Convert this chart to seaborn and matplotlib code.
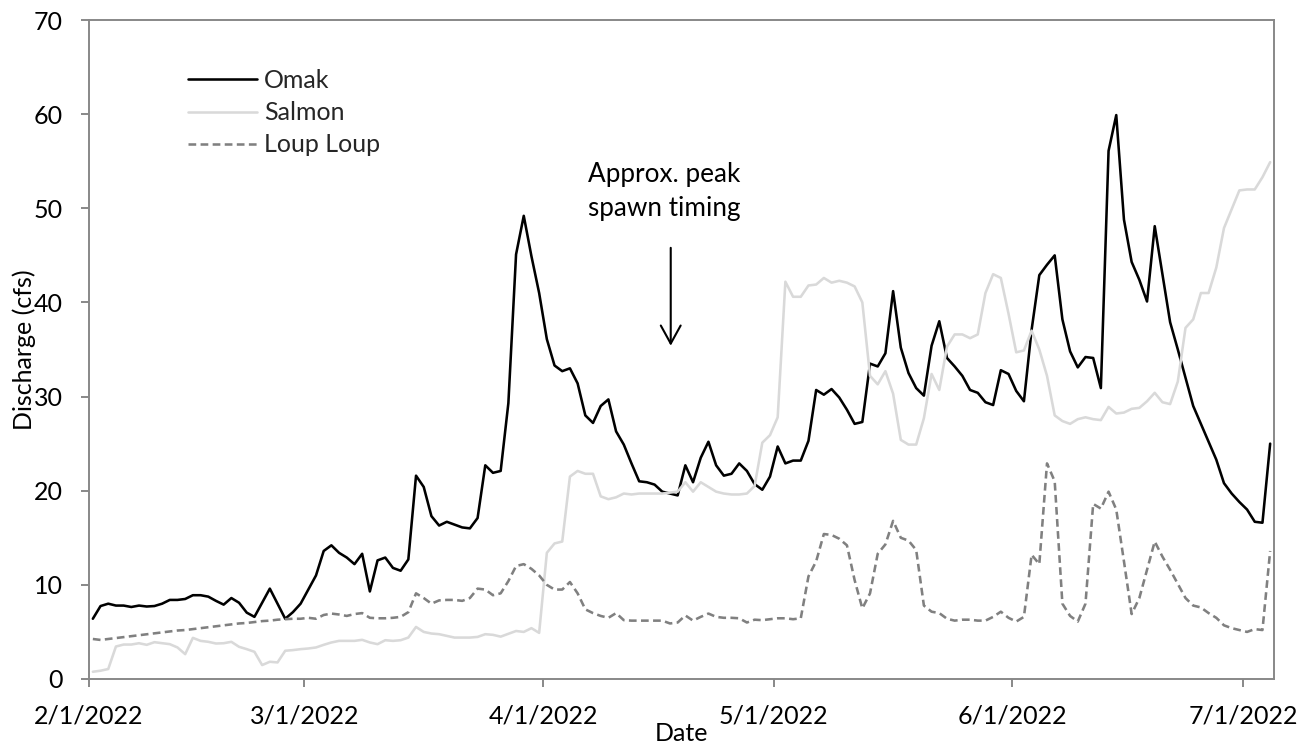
import numpy as np
import pandas as pd
import matplotlib
matplotlib.use("Agg")
import matplotlib.pyplot as plt
import matplotlib.dates as mdates
from matplotlib.ticker import FuncFormatter
from matplotlib.lines import Line2D
import seaborn as sns

# Daily mean discharge (cfs), 1 Feb - 4 Jul 2022
start_date = "2022-02-01"
sites = ["Omak", "Salmon", "Loup Loup"]

omak = [
    # Feb
    6.4, 7.75, 8.0, 7.8, 7.8, 7.65, 7.8, 7.7, 7.75, 8.0,
    8.4, 8.4, 8.5, 8.9, 8.9, 8.75, 8.3, 7.9, 8.6, 8.1,
    7.05, 6.6, 8.1, 9.6, 8.0, 6.4, 7.1, 8.0,
    # Mar
    9.5, 11.0, 13.6, 14.2, 13.4, 12.9, 12.2, 13.3, 9.3, 12.6,
    12.9, 11.8, 11.5, 12.7, 21.6, 20.4, 17.3, 16.3, 16.7, 16.4,
    16.1, 16.0, 17.1, 22.7, 21.9, 22.1, 29.3, 45.1, 49.2, 44.9, 41.0,
    # Apr
    36.1, 33.3, 32.7, 33.0, 31.4, 28.0, 27.2, 29.0, 29.7, 26.3,
    24.9, 22.9, 21.0, 20.9, 20.65, 19.9, 19.7, 19.5, 22.7, 20.9,
    23.5, 25.2, 22.7, 21.6, 21.8, 22.9, 22.1, 20.7, 20.1, 21.5,
    # May
    24.7, 22.9, 23.2, 23.2, 25.3, 30.7, 30.2, 30.8, 29.9, 28.6,
    27.1, 27.3, 33.5, 33.2, 34.6, 41.2, 35.2, 32.5, 30.9, 30.1,
    35.4, 38.0, 34.1, 33.2, 32.2, 30.7, 30.4, 29.4, 29.1, 32.8, 32.4,
    # Jun
    30.6, 29.5, 37.1, 42.9, 44.0, 45.0, 38.2, 34.8, 33.1, 34.2,
    34.1, 30.9, 56.1, 59.9, 48.8, 44.3, 42.4, 40.1, 48.1, 43.0,
    37.9, 35.0, 32.0, 29.0, 27.1, 25.2, 23.3, 20.8, 19.7, 18.8,
    # Jul
    18.0, 16.7, 16.6, 25.0,
]

salmon = [
    # Feb
    0.77, 0.88, 1.06, 3.45, 3.66, 3.66, 3.8, 3.63, 3.91, 3.8,
    3.7, 3.35, 2.64, 4.37, 4.05, 3.95, 3.77, 3.8, 3.95, 3.42,
    3.17, 2.89, 1.48, 1.83, 1.76, 3.0, 3.07, 3.17,
    # Mar
    3.24, 3.35, 3.63, 3.88, 4.05, 4.05, 4.05, 4.16, 3.88, 3.7,
    4.12, 4.05, 4.12, 4.4, 5.53, 5.0, 4.83, 4.76, 4.58, 4.4,
    4.4, 4.4, 4.47, 4.76, 4.69, 4.5, 4.8, 5.1, 5.0, 5.4, 4.9,
    # Apr
    13.4, 14.4, 14.6, 21.5, 22.1, 21.8, 21.8, 19.4, 19.1, 19.3,
    19.7, 19.6, 19.7, 19.7, 19.7, 19.7, 19.8, 19.9, 20.9, 19.9,
    20.9, 20.4, 19.9, 19.7, 19.6, 19.6, 19.7, 20.5, 25.1, 25.9,
    # May
    27.8, 42.2, 40.6, 40.6, 41.8, 41.9, 42.6, 42.1, 42.3, 42.1,
    41.7, 40.0, 32.2, 31.3, 32.7, 30.3, 25.4, 24.9, 24.9, 27.7,
    32.4, 30.7, 35.3, 36.6, 36.6, 36.2, 36.6, 41.0, 43.0, 42.6, 38.8,
    # Jun
    34.7, 34.9, 37.0, 35.0, 32.2, 28.0, 27.4, 27.1, 27.6, 27.8,
    27.6, 27.5, 28.9, 28.2, 28.3, 28.7, 28.8, 29.5, 30.4, 29.4,
    29.2, 31.6, 37.3, 38.2, 41.0, 41.0, 43.7, 47.9, 49.9, 51.9,
    # Jul
    52.0, 52.0, 53.3, 54.9,
]

loup_loup = [
    # Feb
    4.25, 4.15, 4.25, 4.35, 4.45, 4.55, 4.65, 4.75, 4.85, 4.95,
    5.05, 5.15, 5.2, 5.3, 5.4, 5.5, 5.6, 5.7, 5.8, 5.9,
    5.95, 6.05, 6.15, 6.2, 6.3, 6.35, 6.4, 6.4,
    # Mar
    6.5, 6.4, 6.8, 6.95, 6.85, 6.7, 6.9, 7.0, 6.5, 6.45,
    6.45, 6.5, 6.6, 7.1, 9.1, 8.6, 8.0, 8.35, 8.4, 8.4,
    8.3, 8.6, 9.6, 9.5, 8.9, 9.1, 10.4, 12.0, 12.2, 11.7, 11.0,
    # Apr
    10.0, 9.5, 9.5, 10.3, 9.1, 7.4, 7.0, 6.7, 6.5, 7.0,
    6.25, 6.2, 6.2, 6.2, 6.2, 6.2, 5.9, 6.0, 6.75, 6.2,
    6.6, 6.95, 6.6, 6.5, 6.5, 6.45, 6.0, 6.3, 6.25, 6.35,
    # May
    6.45, 6.45, 6.35, 6.45, 10.9, 12.5, 15.4, 15.3, 14.9, 14.2,
    10.5, 7.5, 9.1, 13.3, 14.3, 16.8, 15.0, 14.7, 13.7, 7.8,
    7.15, 7.0, 6.4, 6.2, 6.3, 6.3, 6.2, 6.2, 6.6, 7.15, 6.5,
    # Jun
    6.1, 6.6, 13.2, 12.2, 22.9, 21.0, 8.0, 6.7, 6.1, 8.0,
    18.6, 18.1, 19.9, 18.0, 12.5, 6.9, 8.6, 11.6, 14.6, 13.0,
    11.6, 10.1, 8.6, 7.8, 7.6, 7.0, 6.5, 5.7, 5.4, 5.2,
    # Jul
    5.0, 5.3, 5.2, 13.6,
]

y_ticks = [0, 10, 20, 30, 40, 50, 60, 70]
x_tick_dates = ["2022-02-01", "2022-03-01", "2022-04-01",
                "2022-05-01", "2022-06-01", "2022-07-01"]
annotation_text = "Approx. peak\nspawn timing"

# Each daily value sits in the middle of its day slot
dates = pd.date_range(start_date, periods=len(omak), freq="D") + pd.Timedelta(hours=12)
df = pd.DataFrame({
    "date": np.tile(dates, 3),
    "discharge": np.concatenate([omak, salmon, loup_loup]),
    "site": np.repeat(sites, len(dates)),
})

sns.set_theme(style="white")
plt.rcParams["font.family"] = ["Lato", "DejaVu Sans"]
FS = 18
AXIS_GREY = "#888888"

palette = {"Omak": "#000000", "Salmon": "#d9d9d9", "Loup Loup": "#808080"}
dashes = {"Omak": "", "Salmon": "", "Loup Loup": (3.0, 1.7)}

fig = plt.figure(figsize=(13.15, 7.49), dpi=100)
W, H = 1315, 749
left, right, top, bottom = 89, 1274, 20, 679
ax = fig.add_axes([left / W, 1 - bottom / H, (right - left) / W, (bottom - top) / H])

sns.lineplot(data=df, x="date", y="discharge", hue="site", style="site",
             hue_order=sites, style_order=sites, palette=palette, dashes=dashes,
             linewidth=1.85, legend=False, ax=ax)

ax.set_xlim(pd.Timestamp("2022-02-01"), pd.Timestamp("2022-07-05"))
ax.set_ylim(0, 70)
ax.set_yticks(y_ticks)
ax.set_xticks([pd.Timestamp(d) for d in x_tick_dates])
ax.xaxis.set_major_formatter(FuncFormatter(
    lambda v, pos: (lambda d: f"{d.month}/{d.day}/{d.year}")(mdates.num2date(v))))

for s in ax.spines.values():
    s.set_visible(True)
    s.set_color(AXIS_GREY)
    s.set_linewidth(1.4)
ax.tick_params(axis="both", which="major", direction="out", length=6,
               width=1.4, color=AXIS_GREY, labelsize=FS, labelcolor="black")
ax.tick_params(axis="x", pad=12, bottom=True, top=False)
ax.tick_params(axis="y", pad=13, left=True, right=False)
ax.grid(False)

ax.set_xlabel("Date", fontsize=FS, color="black")
ax.xaxis.label.set_va("center")
ax.xaxis.set_label_coords(0.5, -0.082)
ax.set_ylabel("Discharge (cfs)", fontsize=FS, color="black")
ax.yaxis.label.set_va("center")
ax.yaxis.set_label_coords(-0.055, 0.5)

# Legend
handles = [Line2D([], [], color=palette[s], lw=1.85,
                  linestyle=(0, dashes[s]) if dashes[s] else "-") for s in sites]
ax.legend(handles, sites, loc="upper left", bbox_to_anchor=(188 / W, 1 - 69 / H),
          bbox_transform=fig.transFigure, frameon=False, fontsize=FS,
          handlelength=2.75, handletextpad=0.3, labelspacing=0.37,
          borderpad=0, borderaxespad=0)

# Spawn timing marker
arrow_x = mdates.date2num(pd.Timestamp("2022-04-17")) + 0.6
text_x = mdates.date2num(pd.Timestamp("2022-04-16")) + 0.8
ax.text(text_x, 51.8, annotation_text, ha="center", va="center",
        fontsize=18.8, linespacing=1.45, color="black")
ax.annotate("", xy=(arrow_x, 35.4), xytext=(arrow_x, 45.8),
            arrowprops=dict(arrowstyle="->,head_length=1.0,head_width=0.55",
                            color="black", lw=1.5, mutation_scale=13,
                            shrinkA=0, shrinkB=0))

fig.savefig("out.png", dpi=100)
